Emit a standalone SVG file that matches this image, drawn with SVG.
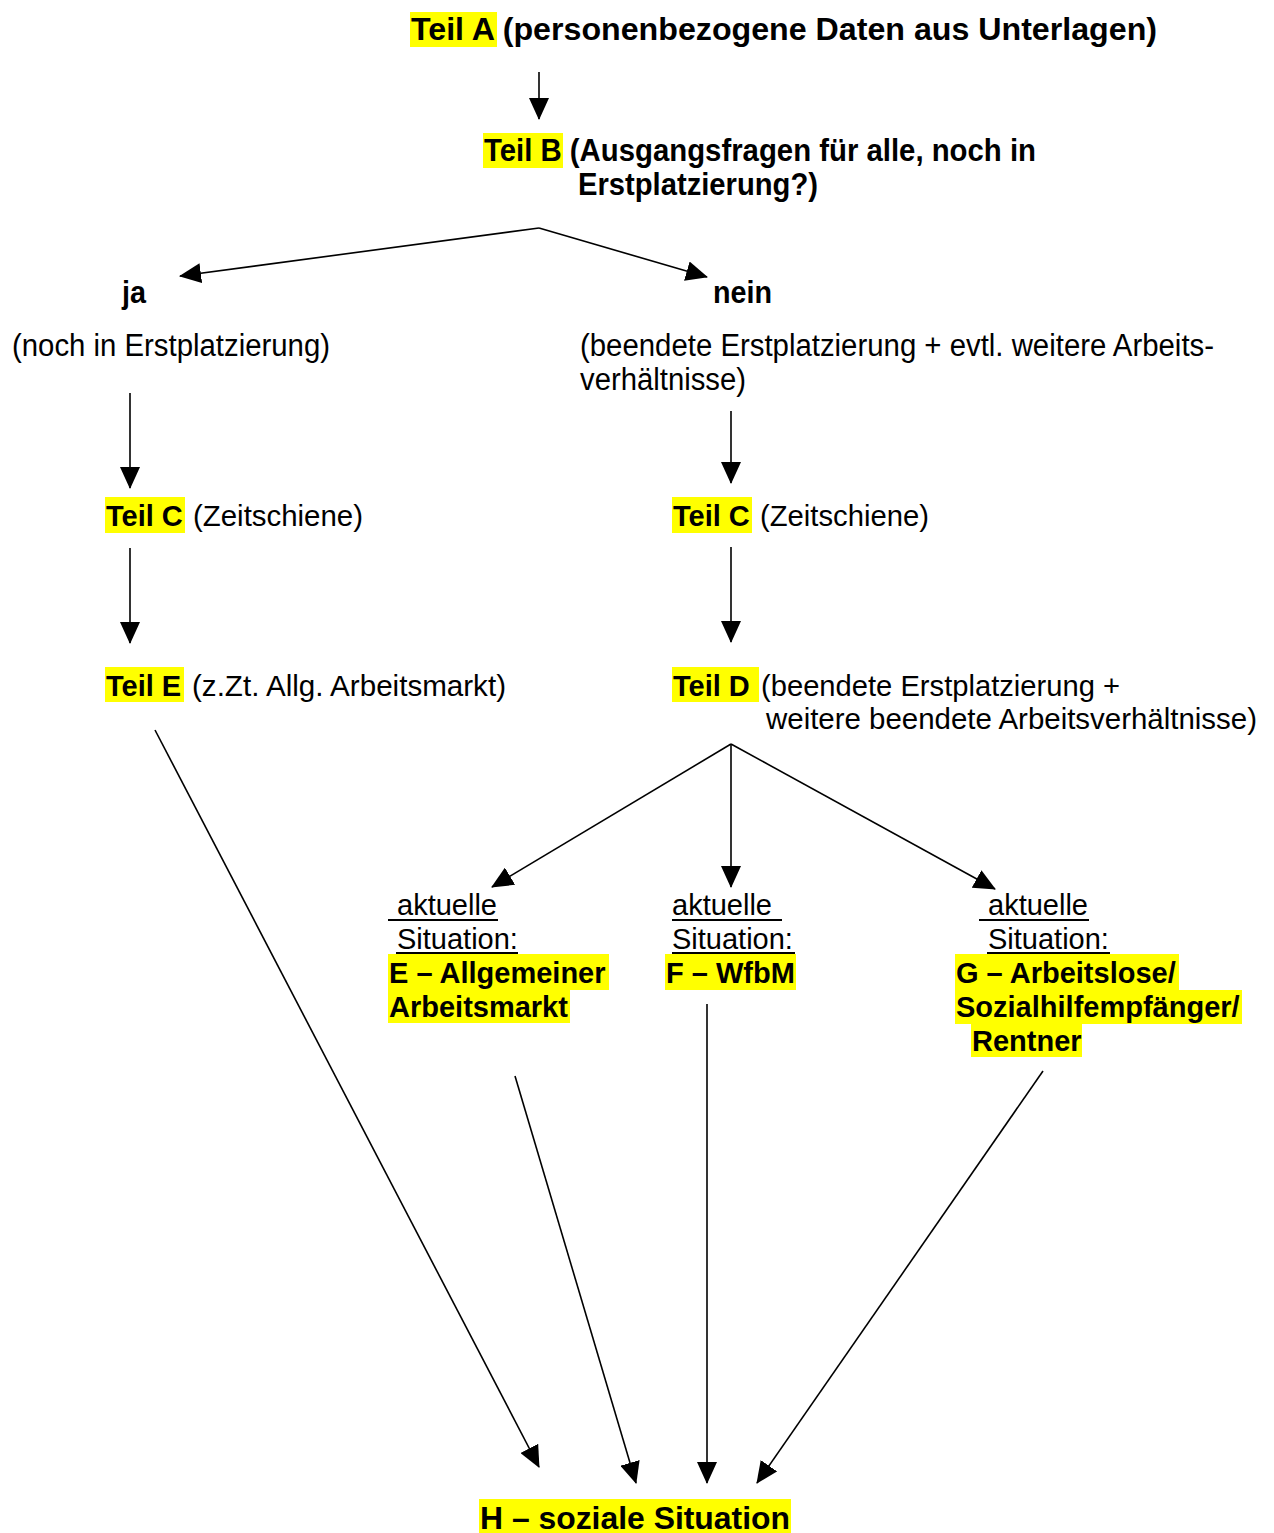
<svg xmlns="http://www.w3.org/2000/svg" width="1274" height="1533" viewBox="0 0 1274 1533">
<style>
text{font-family:"Liberation Sans",Arial,sans-serif;fill:#000}
.b{font-weight:bold}
.t{font-size:31px}
.n{font-size:29px}
.hl{fill:#ffff00}
.ul{stroke:#000;stroke-width:2}
.c line{stroke:#000;stroke-width:1.6;fill:none;marker-end:url(#ah)}
</style>
<defs>
<marker id="ah" markerUnits="userSpaceOnUse" markerWidth="22" markerHeight="20" viewBox="0 0 22 20" refX="21" refY="10" orient="auto">
<path d="M0,0 L22,10 L0,20 z" fill="#000"/>
</marker>
</defs>
<rect width="1274" height="1533" fill="#fff"/>

<g id="teilA">
<rect class="hl" x="410" y="12" width="87" height="35"/>
<text class="t b" x="411" y="40" textLength="746" lengthAdjust="spacingAndGlyphs">Teil A (personenbezogene Daten aus Unterlagen)</text>
</g>

<g id="teilB">
<rect class="hl" x="483" y="133" width="80" height="35"/>
<text class="t b" x="484" y="161" textLength="552" lengthAdjust="spacingAndGlyphs">Teil B (Ausgangsfragen für alle, noch in</text>
<text class="t b" x="578" y="195" textLength="240" lengthAdjust="spacingAndGlyphs">Erstplatzierung?)</text>
</g>

<g id="ja">
<text class="t b" x="122" y="303" textLength="24" lengthAdjust="spacingAndGlyphs">ja</text>
<text class="t" x="12" y="356" textLength="318" lengthAdjust="spacingAndGlyphs">(noch in Erstplatzierung)</text>
</g>

<g id="nein">
<text class="t b" x="713" y="303" textLength="59" lengthAdjust="spacingAndGlyphs">nein</text>
<text class="t" x="580" y="356" textLength="634" lengthAdjust="spacingAndGlyphs">(beendete Erstplatzierung + evtl. weitere Arbeits-</text>
<text class="t" x="580" y="390" textLength="166" lengthAdjust="spacingAndGlyphs">verhältnisse)</text>
</g>

<g id="teilC-links">
<rect class="hl" x="105" y="497" width="80" height="36"/>
<text class="n b" x="106" y="526">Teil C</text>
<text class="n" x="193" y="526" textLength="170" lengthAdjust="spacingAndGlyphs">(Zeitschiene)</text>
</g>

<g id="teilC-rechts">
<rect class="hl" x="672" y="497" width="80" height="36"/>
<text class="n b" x="673" y="526">Teil C</text>
<text class="n" x="760" y="526" textLength="169" lengthAdjust="spacingAndGlyphs">(Zeitschiene)</text>
</g>

<g id="teilE">
<rect class="hl" x="105" y="667" width="79" height="35"/>
<text class="n b" x="106" y="696">Teil E</text>
<text class="n" x="192" y="696" textLength="314" lengthAdjust="spacingAndGlyphs">(z.Zt. Allg. Arbeitsmarkt)</text>
</g>

<g id="teilD">
<rect class="hl" x="672" y="667" width="87" height="35"/>
<text class="n b" x="673" y="696">Teil D</text>
<text class="n" x="761" y="696" textLength="359" lengthAdjust="spacingAndGlyphs">(beendete Erstplatzierung +</text>
<text class="n" x="766" y="729" textLength="491" lengthAdjust="spacingAndGlyphs">weitere beendete Arbeitsverhältnisse)</text>
</g>

<g id="situationE">
<text class="n" x="397" y="915">aktuelle</text>
<line class="ul" x1="388" y1="920" x2="498" y2="920"/>
<text class="n" x="397" y="949">Situation:</text>
<line class="ul" x1="396" y1="953" x2="518" y2="953"/>
<rect class="hl" x="388" y="954" width="221" height="36"/>
<rect class="hl" x="388" y="990" width="182" height="33"/>
<text class="n b" x="389" y="983">E – Allgemeiner</text>
<text class="n b" x="389" y="1017">Arbeitsmarkt</text>
</g>

<g id="situationF">
<text class="n" x="672" y="915">aktuelle</text>
<line class="ul" x1="672" y1="920" x2="782" y2="920"/>
<text class="n" x="672" y="949">Situation:</text>
<line class="ul" x1="672" y1="953" x2="795" y2="953"/>
<rect class="hl" x="665" y="954" width="131" height="36"/>
<text class="n b" x="666" y="983">F – WfbM</text>
</g>

<g id="situationG">
<text class="n" x="988" y="915">aktuelle</text>
<line class="ul" x1="979" y1="920" x2="1089" y2="920"/>
<text class="n" x="988" y="949">Situation:</text>
<line class="ul" x1="987" y1="953" x2="1110" y2="953"/>
<rect class="hl" x="955" y="954" width="224" height="36"/>
<rect class="hl" x="955" y="990" width="287" height="34"/>
<rect class="hl" x="971" y="1024" width="111" height="33"/>
<text class="n b" x="956" y="983">G – Arbeitslose/</text>
<text class="n b" x="956" y="1017">Sozialhilfempfänger/</text>
<text class="n b" x="972" y="1051">Rentner</text>
</g>

<g id="teilH">
<rect class="hl" x="479" y="1499" width="312" height="34"/>
<text class="b" style="font-size:30.5px" x="480" y="1529" textLength="310" lengthAdjust="spacingAndGlyphs">H – soziale Situation</text>
</g>

<g id="connectors" class="c">
<line x1="539" y1="72" x2="539" y2="119"/>
<line x1="539" y1="228" x2="180" y2="276"/>
<line x1="539" y1="228" x2="707" y2="277"/>
<line x1="130" y1="393" x2="130" y2="488"/>
<line x1="731" y1="411" x2="731" y2="483"/>
<line x1="130" y1="548" x2="130" y2="643"/>
<line x1="731" y1="547" x2="731" y2="642"/>
<line x1="731" y1="744" x2="492" y2="887"/>
<line x1="731" y1="744" x2="731" y2="887"/>
<line x1="731" y1="744" x2="995" y2="889"/>
<line x1="155" y1="730" x2="539" y2="1467"/>
<line x1="515" y1="1076" x2="636" y2="1483"/>
<line x1="707" y1="1004" x2="707" y2="1483"/>
<line x1="1043" y1="1071" x2="757" y2="1483"/>
</g>
</svg>
